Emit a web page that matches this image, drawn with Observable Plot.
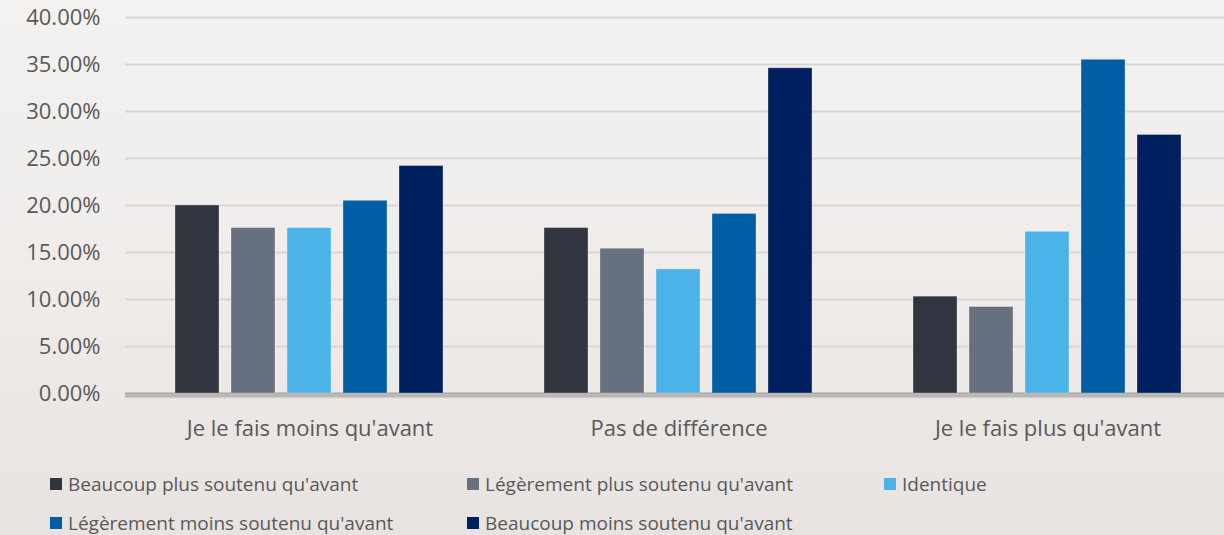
<!DOCTYPE html>
<html>
<head>
<meta charset="utf-8">
<script src="https://cdn.jsdelivr.net/npm/d3@7"></script>
<script src="https://cdn.jsdelivr.net/npm/@observablehq/plot@0.6"></script>
<style>
  html, body { margin: 0; padding: 0; overflow: hidden; }
  body { width: 1224px; height: 535px; background: linear-gradient(180deg, #f3f2f1 0%, #efecea 50%, #e8e3e1 100%); font-family: "Open Sans", "Noto Sans", sans-serif; position: relative; }
  #chart { position: absolute; left: 0; top: 0; width: 1232px; }
  #chart svg { max-width: none !important; }
  #legend { position: absolute; left: 0; top: 0; width: 1224px; height: 535px; pointer-events: none; }
  .item { position: absolute; display: flex; align-items: center; font-size: 19px; color: #595959; white-space: nowrap; transform: translateY(-50%); }
  .sw { width: 12px; height: 12px; margin-right: 6px; display: inline-block; }
</style>
</head>
<body>
<div id="chart"></div>
<div id="legend"></div>
<script>
const categories = ["Je le fais moins qu'avant", "Pas de différence", "Je le fais plus qu'avant"];
const series = [
  "Beaucoup plus soutenu qu'avant",
  "Légèrement plus soutenu qu'avant",
  "Identique",
  "Légèrement moins soutenu qu'avant",
  "Beaucoup moins soutenu qu'avant"
];
const colors = ["#31353f", "#67707f", "#4bb3e8", "#015ea5", "#00205f"];
// percentages per series, in category order
const beaucoupPlus   = [20.0, 17.6, 10.3];
const legerementPlus = [17.6, 15.4, 9.2];
const identique      = [17.6, 13.2, 17.2];
const legerementMoins= [20.5, 19.1, 35.5];
const beaucoupMoins  = [24.2, 34.6, 27.5];
const yTicks = [0, 0.05, 0.10, 0.15, 0.20, 0.25, 0.30, 0.35, 0.40];

const seriesValues = [beaucoupPlus, legerementPlus, identique, legerementMoins, beaucoupMoins];
const data = [];
categories.forEach((c, ci) => {
  series.forEach((s, si) => {
    data.push({category: c, series: s, value: seriesValues[si][ci] / 100});
  });
});

const chart = Plot.plot({
  width: 1232,
  height: 455,
  marginLeft: 124,
  marginRight: 0,
  marginTop: 17,
  marginBottom: 62,
  style: {background: "transparent", fontSize: "22px", fontFamily: "'Open Sans', 'Noto Sans', sans-serif", color: "#595959", overflow: "visible", maxWidth: "none"},
  fx: {domain: categories, padding: 0, axis: "bottom", tickSize: 0, tickPadding: 27, label: null},
  x: {domain: series, paddingInner: 0.213, paddingOuter: 0.857, axis: null},
  y: {domain: [0, 0.4], ticks: yTicks, tickFormat: d3.format(".2%"), tickSize: 0, tickPadding: 25, label: null},
  color: {domain: series, range: colors},
  marks: [
    Plot.ruleY(yTicks.filter(d => d > 0), {stroke: "#d9d6d4", strokeWidth: 2}),
    Plot.ruleY([0], {stroke: "#000", strokeOpacity: 0.06, strokeWidth: 2, dy: 4}),
    Plot.ruleY([0], {stroke: "#000", strokeOpacity: 0.10, strokeWidth: 2, dy: 3}),
    Plot.ruleY([0], {stroke: "#000", strokeOpacity: 0.18, strokeWidth: 2, dy: 2}),
    Plot.ruleY([0], {stroke: "#a9a6a4", strokeWidth: 2}),
    Plot.barY(data, {fx: "category", x: "series", y: "value", fill: "series", stroke: "#ffffff", strokeOpacity: 0.3, strokeWidth: 1})
  ]
});
document.getElementById("chart").appendChild(chart);

const legendPos = [[50, 484], [467, 484], [884, 484], [50, 523], [467, 523]];
const legend = document.getElementById("legend");
series.forEach((s, i) => {
  const it = document.createElement("div");
  it.className = "item";
  it.style.left = legendPos[i][0] + "px";
  it.style.top = legendPos[i][1] + "px";
  const sw = document.createElement("span");
  sw.className = "sw";
  sw.style.background = colors[i];
  it.appendChild(sw);
  it.appendChild(document.createTextNode(s));
  legend.appendChild(it);
});
</script>
</body>
</html>
